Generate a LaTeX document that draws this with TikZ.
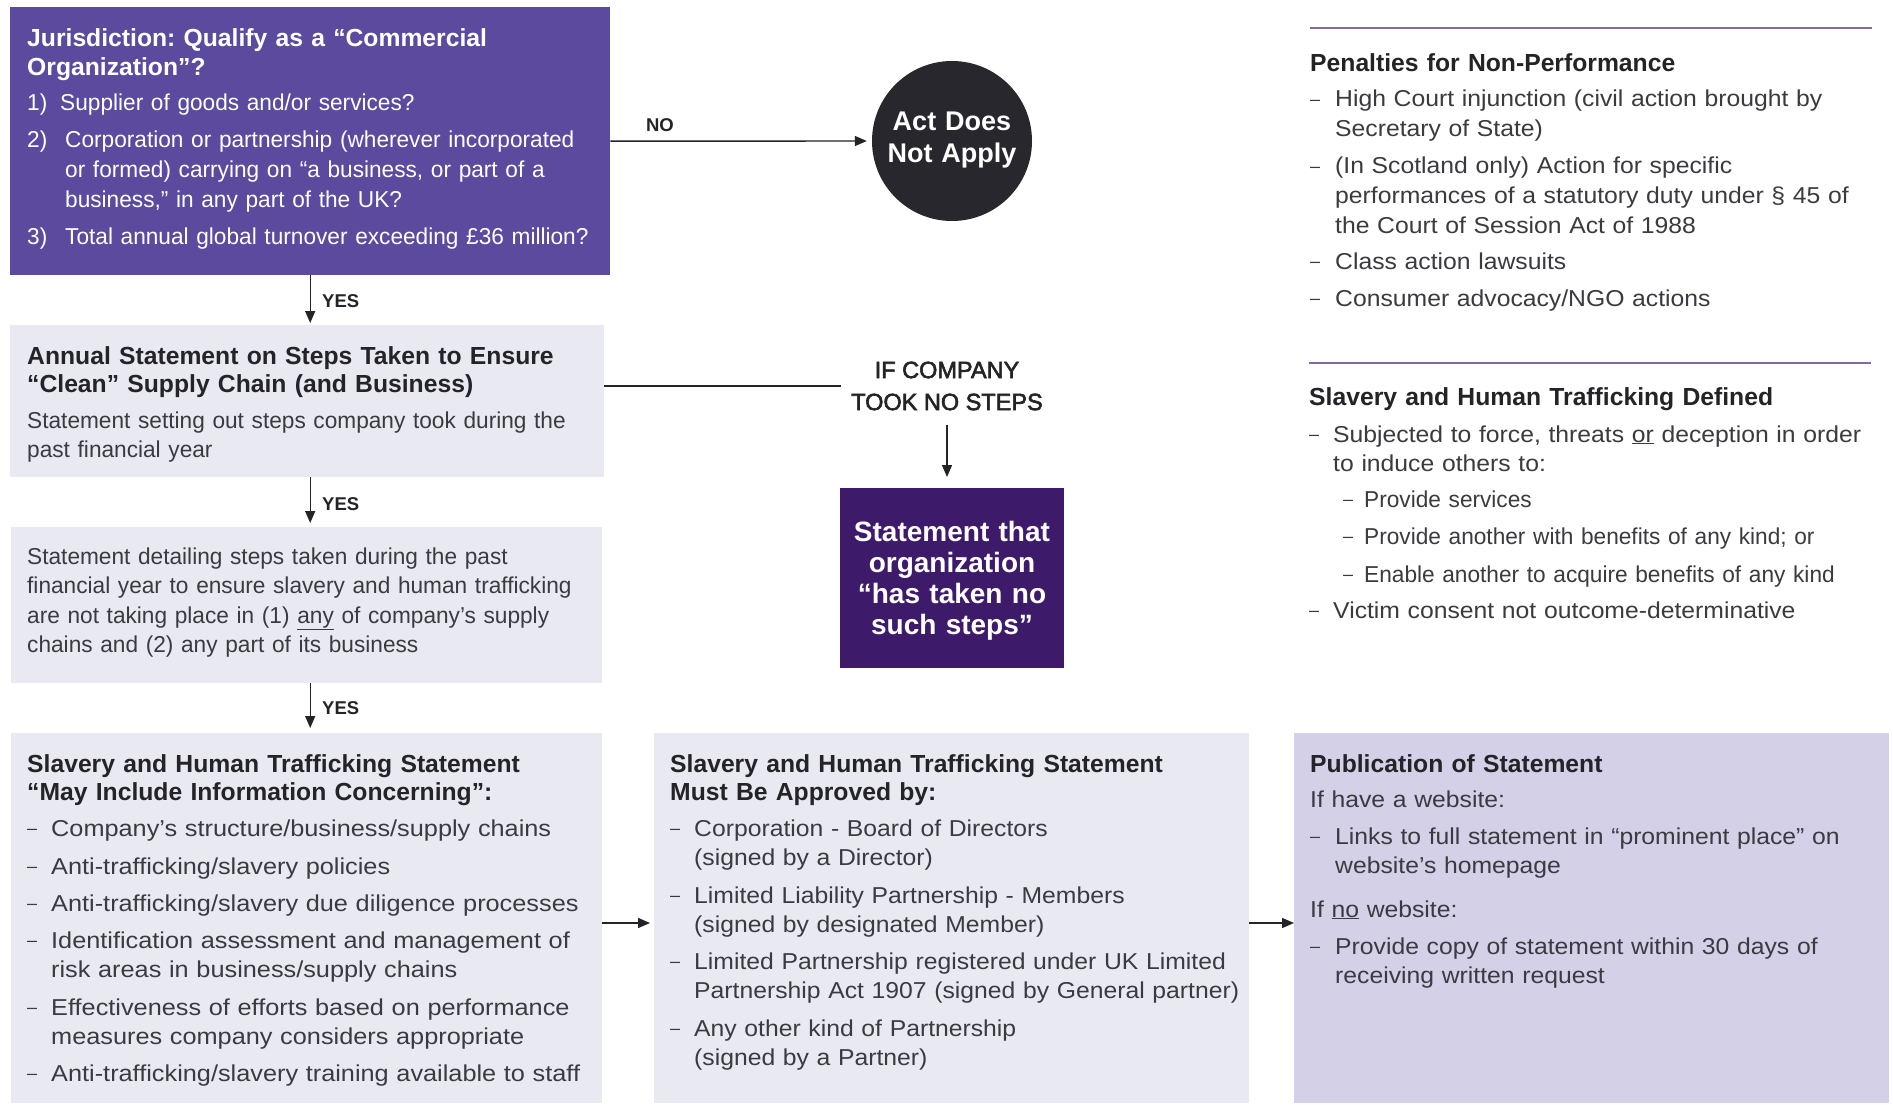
\documentclass[tikz,border=0pt]{standalone}
\usepackage{fontspec}
\setmainfont{Liberation Sans}
\newfontfamily\famN[FakeStretch=0.985]{Liberation Sans}
\newfontfamily\famW[FakeStretch=1.075]{Liberation Sans}
\newfontfamily\famX[FakeStretch=1.1]{Liberation Sans}
\newfontfamily\famM[FakeBold=2.5]{Liberation Sans}
\usetikzlibrary{arrows.meta,calc}
\definecolor{jurpurple}{HTML}{5B4A9D}
\definecolor{deeppurple}{HTML}{3E1A6A}
\definecolor{circfill}{HTML}{28272E}
\definecolor{greybox}{HTML}{E9E9F1}
\definecolor{lavbox}{HTML}{D4D0E7}
\definecolor{rulec}{HTML}{7D6BA8}
\definecolor{ink}{HTML}{232328}
\definecolor{bodyc}{HTML}{3A3A40}
\newcommand{\ttlf}{\frenchspacing\fontsize{24.7}{28.5}\selectfont\bfseries}
\newcommand{\bodyf}{\frenchspacing\famW\fontsize{23}{29.5}\selectfont}
\newcommand{\bodyx}{\frenchspacing\famX\fontsize{23}{29.5}\selectfont}
\newcommand{\bodyn}{\frenchspacing\famN\fontsize{23}{29.5}\selectfont}
\newcommand{\dashf}{\fontsize{18}{20}\selectfont}
\newcommand{\labf}{\fontsize{18.5}{22}\selectfont\bfseries}
\newcommand{\bigf}{\fontsize{27}{32}\selectfont\bfseries}
\newcommand{\dsh}{\raisebox{1.6pt}{–}}
\tikzset{
  box/.style={anchor=north west, inner sep=0pt, draw=none},
  tl/.style={anchor=base west, inner sep=0pt, text width=640pt, align=left, font=\ttlf, text=ink},
  bl/.style={anchor=base west, inner sep=0pt, text width=640pt, align=left, font=\bodyf, text=bodyc},
  bn/.style={bl, font=\bodyn},
  bx/.style={bl, font=\bodyx},
  dl/.style={anchor=base west, inner sep=0pt, font=\dashf, text=bodyc},
  nl/.style={anchor=base west, inner sep=0pt, font=\bodyn, text=white},
  lab/.style={anchor=base west, inner sep=0pt, font=\labf, text=ink},
  arr/.style={draw=ink, line width=1.4pt, -{Triangle[length=12pt,width=10pt]}},
  plain/.style={draw=ink, line width=1.4pt},
  rulel/.style={draw=rulec, line width=2.5pt},
}
\begin{document}
\begin{tikzpicture}[x=1pt,y=-1pt]
\useasboundingbox[fill=white] (0,0) rectangle (1893,1105);

% boxes
\node[box, fill=jurpurple, minimum width=600pt, minimum height=268pt] (jur) at (10,7) {};
\node[circle, fill=circfill, minimum size=160pt, inner sep=0pt] (act) at (952,141) {};
\node[box, fill=greybox, minimum width=594pt, minimum height=152pt] (ann) at (10,325) {};
\node[box, fill=greybox, minimum width=591pt, minimum height=156pt] (det) at (11,527) {};
\node[box, fill=greybox, minimum width=591pt, minimum height=370pt] (inc) at (11,733) {};
\node[box, fill=greybox, minimum width=595pt, minimum height=370pt] (app) at (654,733) {};
\node[box, fill=lavbox, minimum width=595pt, minimum height=370pt] (pub) at (1294,733) {};
\node[box, fill=deeppurple, minimum width=224pt, minimum height=180pt] (nostep) at (840,488) {};

% jurisdiction text
\node[tl, text=white] (jt) at (27,47) {Jurisdiction: Qualify as a “Commercial\\Organization”?};
\node[nl] (jn1) at (27,111) {1)};
\node[bn, text=white] (ji1) at (60,111) {Supplier of goods and/or services?};
\node[nl] (jn2) at (27,148) {2)};
\node[bn, text=white] (ji2) at (65,148) {Corporation or partnership (wherever incorporated\\or formed) carrying on “a business, or part of a\\business,” in any part of the UK?};
\node[nl] (jn3) at (27,244) {3)};
\node[bn, text=white] (ji3) at (65,244) {Total annual global turnover exceeding £36 million?};

% act does not apply
\node[anchor=base, inner sep=0pt, text width=200pt, align=center, font=\bigf, text=white] (actt) at (952,131) {Act Does\\Not Apply};
\node[lab, anchor=base] (nol) at (660,132) {NO};

% annual statement
\node[tl] (annt) at (27,364) {Annual Statement on Steps Taken to Ensure\\“Clean” Supply Chain (and Business)};
\node[bn] (annb) at (27,428) {Statement setting out steps company took during the\\past financial year};

% detail
\node[bn] (detb) at (27,564) {Statement detailing steps taken during the past\\financial year to ensure slavery and human trafficking\\are not taking place in (1) \underline{any} of company’s supply\\chains and (2) any part of its business};

% if company took no steps
\node[inner xsep=10pt, inner ysep=0pt, align=center, font=\famM\fontsize{23.5}{32}\selectfont, text=ink] (iflab) at (947,386) {IF COMPANY\\TOOK NO STEPS};
\node[anchor=base, inner sep=0pt, text width=220pt, align=center, font=\fontsize{28}{31.2}\selectfont\bfseries, text=white] (nost) at (952,541) {Statement that\\organization\\“has taken no\\such steps”};

% may include
\node[tl] (inct) at (27,772) {Slavery and Human Trafficking Statement\\“May Include Information Concerning”:};
\node[dl] (incd1) at (27,836) {\dsh};
\node[bx] (inci1) at (51,836) {Company’s structure/business/supply chains};
\node[dl] (incd2) at (27,874) {\dsh};
\node[bx] (inci2) at (51,874) {Anti-trafficking/slavery policies};
\node[dl] (incd3) at (27,911) {\dsh};
\node[bx] (inci3) at (51,911) {Anti-trafficking/slavery due diligence processes};
\node[dl] (incd4) at (27,948) {\dsh};
\node[bx] (inci4) at (51,948) {Identification assessment and management of\\risk areas in business/supply chains};
\node[dl] (incd5) at (27,1015) {\dsh};
\node[bx] (inci5) at (51,1015) {Effectiveness of efforts based on performance\\measures company considers appropriate};
\node[dl] (incd6) at (27,1081) {\dsh};
\node[bx] (inci6) at (51,1081) {Anti-trafficking/slavery training available to staff};

% approved by
\node[tl] (appt) at (670,772) {Slavery and Human Trafficking Statement\\Must Be Approved by:};
\node[dl] (appd1) at (670,836) {\dsh};
\node[bl] (appi1) at (694,836) {Corporation - Board of Directors\\(signed by a Director)};
\node[dl] (appd2) at (670,903) {\dsh};
\node[bl] (appi2) at (694,903) {Limited Liability Partnership - Members\\(signed by designated Member)};
\node[dl] (appd3) at (670,969) {\dsh};
\node[bl] (appi3) at (694,969) {Limited Partnership registered under UK Limited\\Partnership Act 1907 (signed by General partner)};
\node[dl] (appd4) at (670,1036) {\dsh};
\node[bl] (appi4) at (694,1036) {Any other kind of Partnership\\(signed by a Partner)};

% publication
\node[tl] (pubt) at (1310,772) {Publication of Statement};
\node[bl] (pubh1) at (1310,807) {If have a website:};
\node[dl] (pubd1) at (1310,844) {\dsh};
\node[bl] (pubi1) at (1335,844) {Links to full statement in “prominent place” on\\website’s homepage};
\node[bl] (pubh2) at (1310,917) {If \underline{no} website:};
\node[dl] (pubd2) at (1310,954) {\dsh};
\node[bl] (pubi2) at (1335,954) {Provide copy of statement within 30 days of\\receiving written request};

% penalties
\draw[rulel] (1310,28) -- (1872,28);
\node[tl] (pent) at (1310,72) {Penalties for Non-Performance};
\node[dl] (pend1) at (1310,107) {\dsh};
\node[bl] (peni1) at (1335,107) {High Court injunction (civil action brought by\\Secretary of State)};
\node[dl] (pend2) at (1310,174) {\dsh};
\node[bl] (peni2) at (1335,174) {(In Scotland only) Action for specific\\performances of a statutory duty under § 45 of\\the Court of Session Act of 1988};
\node[dl] (pend3) at (1310,269) {\dsh};
\node[bl] (peni3) at (1335,269) {Class action lawsuits};
\node[dl] (pend4) at (1310,306) {\dsh};
\node[bl] (peni4) at (1335,306) {Consumer advocacy/NGO actions};

% defined
\draw[rulel] (1309,363) -- (1871,363);
\node[tl] (deft) at (1309,405) {Slavery and Human Trafficking Defined};
\node[dl] (defd1) at (1309,442) {\dsh};
\node[bl, text width=560pt] (defi1) at (1333,442) {Subjected to force, threats \underline{or} deception in order\\to induce others to:};
\node[dl] (defs1) at (1343,507) {\dsh};
\node[bn] (defsi1) at (1364,507) {Provide services};
\node[dl] (defs2) at (1343,544) {\dsh};
\node[bn] (defsi2) at (1364,544) {Provide another with benefits of any kind; or};
\node[dl] (defs3) at (1343,582) {\dsh};
\node[bn] (defsi3) at (1364,582) {Enable another to acquire benefits of any kind};
\node[dl] (defd2) at (1309,618) {\dsh};
\node[bl] (defi2) at (1333,618) {Victim consent not outcome-determinative};

% YES labels
\node[lab] (yes1) at (322,307) {YES};
\node[lab] (yes2) at (322,510) {YES};
\node[lab] (yes3) at (322,714) {YES};

% connectors
\coordinate (row) at (0,923);
\draw[arr, shorten >=5pt] (jur.east) -- (act.west);
\draw[arr, shorten >=2pt] (jur.south) -- (jur.south |- ann.north);
\draw[arr, shorten >=4pt] (jur.south |- ann.south) -- (jur.south |- det.north);
\draw[arr, shorten >=5pt] (jur.south |- det.south) -- (jur.south |- inc.north);
\draw[plain] (ann.east |- iflab.west) -- (iflab.west);
\draw[arr, shorten <=14pt, shorten >=11pt] (iflab.south) -- (iflab.south |- nostep.north);
\draw[arr, shorten >=4pt] (inc.east |- row) -- (app.west |- row);
\draw[arr] (app.east |- row) -- (pub.west |- row);
\end{tikzpicture}
\end{document}
